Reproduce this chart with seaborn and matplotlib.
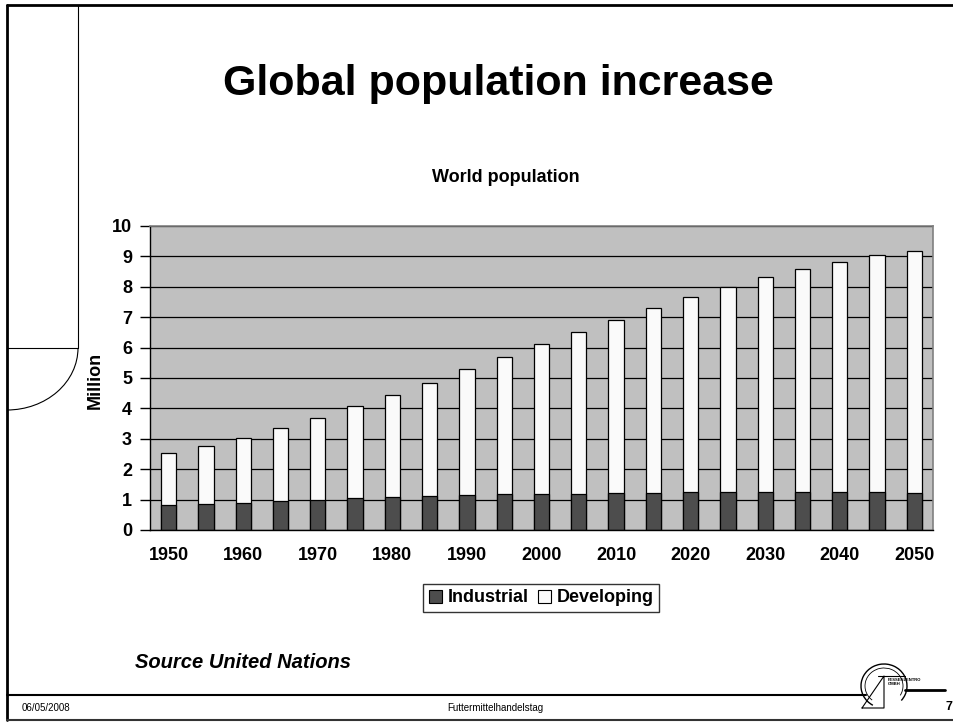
import matplotlib
matplotlib.use("Agg")
import matplotlib.pyplot as plt
import seaborn as sns
import numpy as np
import pandas as pd
from matplotlib.patches import Arc, Patch

# data (billions, label says "Million")
years = [str(y) for y in range(1950, 2051, 5)]
industrial = [0.82, 0.85, 0.90, 0.96, 1.00, 1.04, 1.07, 1.12, 1.14, 1.17, 1.19,
              1.19, 1.23, 1.23, 1.26, 1.26, 1.26, 1.26, 1.26, 1.26, 1.23]
developing = [1.70, 1.91, 2.12, 2.39, 2.70, 3.05, 3.37, 3.72, 4.14, 4.53, 4.92,
              5.33, 5.68, 6.06, 6.41, 6.74, 7.05, 7.33, 7.56, 7.78, 7.95]
year_labels = [y if i % 2 == 0 else "" for i, y in enumerate(years)]
y_ticks = list(range(0, 11))

sns.set_style("white")
plt.rcParams['font.family'] = ['Liberation Sans', 'DejaVu Sans']
plt.rcParams['text.color'] = 'black'
plt.rcParams['xtick.color'] = 'black'
plt.rcParams['ytick.color'] = 'black'
plt.rcParams['axes.labelcolor'] = 'black'

IND_COLOR = '#4d4d4d'
DEV_COLOR = '#fafafa'

df = pd.DataFrame({'year': years, 'industrial': industrial, 'developing': developing})
df['total'] = df['industrial'] + df['developing']

W, H = 954, 722
fig = plt.figure(figsize=(W / 100, H / 100), dpi=100)

# slide decoration layer in pixel coordinates
deco = fig.add_axes([0, 0, 1, 1])
deco.set_xlim(0, W)
deco.set_ylim(H, 0)
deco.axis('off')
deco.plot([7, W], [5, 5], color='black', lw=2)
deco.plot([7, 7], [5, 720], color='black', lw=2)
deco.plot([7, W], [720, 720], color='#333333', lw=1.5)
deco.plot([78, 78], [5, 348], color='black', lw=0.8)
deco.plot([7, 78], [348, 348], color='black', lw=0.8)
deco.add_patch(Arc((7, 348), 142, 124, theta1=0, theta2=90, color='black', lw=0.8))
deco.plot([7, 866], [695, 695], color='black', lw=1.5)
deco.plot([905, 945], [690, 690], color='black', lw=2)
# rough logo
deco.add_patch(Arc((884, 686), 46, 44, theta1=120, theta2=400, color='black', lw=1))
deco.add_patch(Arc((884, 686), 38, 36, theta1=130, theta2=390, color='black', lw=0.6))
deco.plot([862, 884, 884, 862], [708, 676, 708, 708], color='black', lw=0.8)
deco.plot([878, 905], [676, 676], color='black', lw=0.8)
deco.text(888, 682, 'FESSENZENTRO\nGMBH', fontsize=3, fontweight='bold', va='center', ha='left')

# chart
ax = fig.add_axes([150 / W, 1 - 530 / H, 783 / W, 304 / H])
ax.set_facecolor('#c0c0c0')
ax.set_axisbelow(True)
ax.yaxis.grid(True, color='black', lw=0.9)

sns.barplot(data=df, x='year', y='total', color=DEV_COLOR, saturation=1,
            edgecolor='black', linewidth=0.9, width=0.41, errorbar=None, ax=ax)
sns.barplot(data=df, x='year', y='industrial', color=IND_COLOR, saturation=1,
            edgecolor='black', linewidth=0.9, width=0.41, errorbar=None, ax=ax)

ax.set_ylim(0, 10)
ax.set_xlim(-0.5, len(years) - 0.5)
ax.set_yticks(y_ticks)
ax.set_yticklabels([str(t) for t in y_ticks], fontsize=13, fontweight='bold')
ax.set_xticks(range(len(years)))
ax.set_xticklabels(year_labels, fontsize=13, fontweight='bold')
ax.set_xticks(np.arange(-0.5, len(years), 1), minor=True)
ax.tick_params(axis='x', which='major', length=0, pad=12)
ax.tick_params(axis='x', which='minor', length=6, width=1, color='black', direction='out')
ax.tick_params(axis='y', length=7, width=1, color='black', direction='out', pad=6, left=True)
ax.set_xlabel('')
ax.set_ylabel('')
for side in ['left', 'bottom']:
    ax.spines[side].set_color('black')
    ax.spines[side].set_linewidth(1)
for side in ['top', 'right']:
    ax.spines[side].set_color('#808080')
    ax.spines[side].set_linewidth(1.2)

handles = [Patch(facecolor=IND_COLOR, edgecolor='black', lw=0.8),
           Patch(facecolor=DEV_COLOR, edgecolor='black', lw=0.8)]
leg = fig.legend(handles, ['Industrial', 'Developing'], ncol=2, loc='center',
                 bbox_to_anchor=(541 / W, 1 - 598 / H), frameon=True, fancybox=False,
                 edgecolor='black', prop={'size': 13, 'weight': 'bold'},
                 handlelength=0.75, handleheight=0.75, handletextpad=0.3,
                 columnspacing=0.5, borderpad=0.3, borderaxespad=0)
leg.get_frame().set_linewidth(1)

# texts
fig.text(498 / W, 1 - 84 / H, 'Global population increase', fontsize=31,
         fontweight='bold', ha='center', va='center')
fig.text(506 / W, 1 - 177 / H, 'World population', fontsize=13,
         fontweight='bold', ha='center', va='center')
fig.text(95 / W, 1 - 380 / H, 'Million', fontsize=13, fontweight='bold',
         rotation=90, ha='center', va='center')
fig.text(135 / W, 1 - 663 / H, 'Source United Nations', fontsize=14.5,
         fontweight='bold', style='italic', ha='left', va='center')
fig.text(22 / W, 1 - 708 / H, '06/05/2008', fontsize=7, ha='left', va='center')
fig.text(495 / W, 1 - 708 / H, 'Futtermittelhandelstag', fontsize=7,
         ha='center', va='center')
fig.text(946 / W, 1 - 707 / H, '7', fontsize=9, fontweight='bold',
         ha='left', va='center')

fig.savefig('out.png', dpi=100)
